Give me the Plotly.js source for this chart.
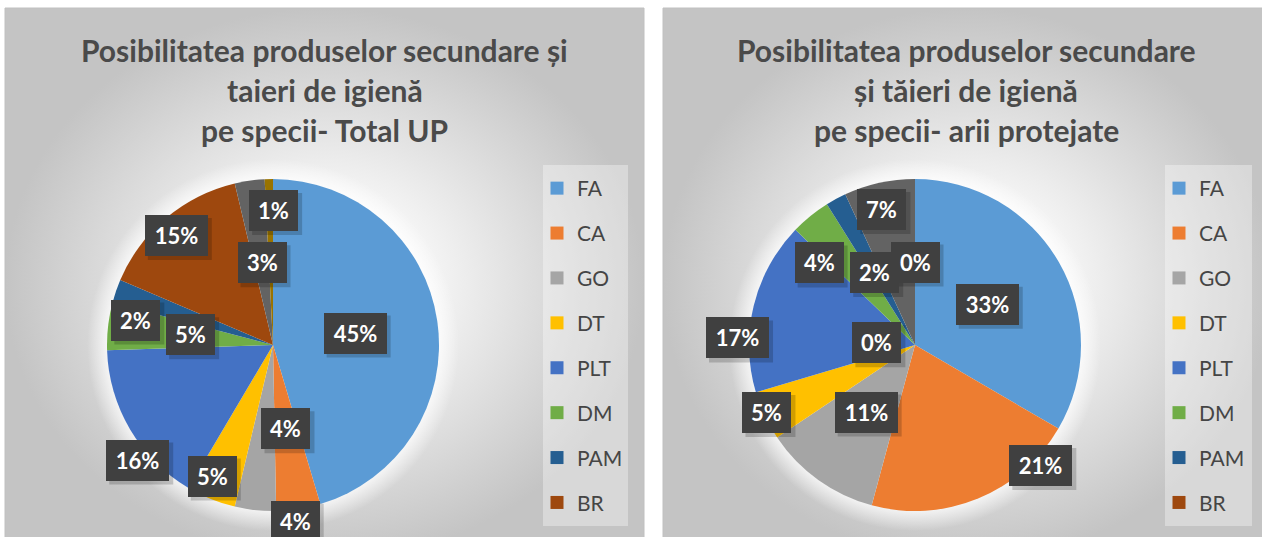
<!DOCTYPE html>
<html>
<head>
<meta charset="utf-8">
<script src="https://cdn.plot.ly/plotly-3.0.1.min.js"></script>
<style>html,body{margin:0;padding:0;background:#fff;overflow:hidden}</style>
</head>
<body>
<div id="chart" style="width:1262px;height:537px"></div>
<script>
// ---------------- data ----------------
const categories = ['FA', 'CA', 'GO', 'DT', 'PLT', 'DM', 'PAM', 'BR', 'Categoria 9', 'Categoria 10'];
const legendCategories = ['FA', 'CA', 'GO', 'DT', 'PLT', 'DM', 'PAM', 'BR'];
const totalUPValues = [45.4, 4.3, 4.0, 4.8, 16.0, 4.6, 2.3, 14.9, 2.9, 0.8];
const ariiProtejateValues = [33.4, 20.8, 11.4, 4.8, 16.8, 3.9, 2.0, 0, 6.9, 0];
const titleTotalUP = ['Posibilitatea produselor secundare și', 'taieri de igienă', 'pe specii- Total UP'];
const titleArii = ['Posibilitatea produselor secundare', 'și tăieri de igienă', 'pe specii- arii protejate'];

// ---------------- style ----------------
const sliceColors = ['#5B9BD5', '#ED7D31', '#A5A5A5', '#FFC000', '#4472C4', '#70AD47', '#255E91', '#9E480E', '#636363', '#997300'];
// label placement: radius fraction and angle shift (deg) for each slice label
const leftLabelR = [0.5, 0.51, 1.07, 0.87, 1.07, 0.5, 0.84, 0.88, 0.5, 0.81];
const leftLabelShift = [0, 0, -13.3, 2.9, -9.8, 0.6, -8.6, -1.3, 0.5, 1.7];
const rightLabelR = [0.5, 1.05, 0.5, 0.98, 1.07, 0.76, 0.5, 0.23, 0.84, 0.5];
const rightLabelShift = [0.4, -23.9, 0.4, 0.7, -11.4, -10.4, -0.6, -61.9, -1.3, 0];

const W = 1262, H = 537;
const FONT = 'Lato, "Open Sans", sans-serif';

const panels = [
  {values: totalUPValues, title: titleTotalUP, cx: 273, cy: 345, R: 166,
   px0: 5, px1: 644, py0: 8, py1: 560, titleCx: 324.5,
   lx0: 543, lx1: 628, ly0: 165, ly1: 526, legend: 'legend',
   labelR: leftLabelR, labelShift: leftLabelShift},
  {values: ariiProtejateValues, title: titleArii, cx: 915, cy: 345, R: 166,
   px0: 663, px1: 1272, py0: 8, py1: 560, titleCx: 966,
   lx0: 1165, lx1: 1252, ly0: 165, ly1: 526, legend: 'legend2',
   labelR: rightLabelR, labelShift: rightLabelShift}
];

const traces = [], annotations = [], shapes = [];
const titleLineY = [50, 90, 130];

panels.forEach(function (p, k) {
  // panel background with radial gradient
  traces.push({
    type: 'scatter', mode: 'lines', hoverinfo: 'skip', showlegend: false,
    x: [p.px0, p.px1, p.px1, p.px0, p.px0], y: [p.py0, p.py0, p.py1, p.py1, p.py0],
    fill: 'toself',
    fillgradient: {type: 'radial', colorscale: [[0, '#ffffff'], [0.3, '#f7f7f7'], [1, '#c4c4c4']]},
    line: {color: '#c0c0c0', width: 1}
  });
  // soft glow around the pie
  const gx = [], gy = [], Rg = p.R + 20;
  for (let a = 0; a <= 360; a += 4) {
    gx.push(p.cx + Rg * Math.sin(a * Math.PI / 180));
    gy.push(p.cy - Rg * Math.cos(a * Math.PI / 180));
  }
  traces.push({
    type: 'scatter', mode: 'lines', hoverinfo: 'skip', showlegend: false,
    x: gx, y: gy, fill: 'toself', line: {width: 0},
    fillgradient: {type: 'radial', colorscale: [[0, 'rgba(255,255,255,1)'], [0.86, 'rgba(255,255,255,0.95)'], [1, 'rgba(255,255,255,0)']]}
  });
  // legend proxies (legend in reference shows only first 8 categories)
  legendCategories.forEach(function (c, i) {
    traces.push({
      type: 'scatter', mode: 'markers', x: [null], y: [null], name: c,
      legend: p.legend, legendgroup: p.legend + '_' + i, hoverinfo: 'skip',
      marker: {symbol: 'square', size: 13, color: sliceColors[i], line: {width: 0}}
    });
  });
  // pie
  traces.push({
    type: 'pie', labels: categories, values: p.values, sort: false,
    direction: 'clockwise', rotation: 0, textinfo: 'none', showlegend: false,
    hoverinfo: 'label+percent',
    marker: {colors: sliceColors, line: {width: 0}},
    domain: {x: [(p.cx - p.R) / W, (p.cx + p.R) / W], y: [(H - p.cy - p.R) / H, (H - p.cy + p.R) / H]}
  });
  // legend box
  shapes.push({type: 'rect', xref: 'paper', yref: 'paper', layer: 'above',
    x0: p.lx0 / W, x1: p.lx1 / W, y0: 1 - p.ly1 / H, y1: 1 - p.ly0 / H,
    fillcolor: 'rgba(255,255,255,0.35)', line: {width: 0}});
  // title lines
  p.title.forEach(function (t, j) {
    annotations.push({xref: 'paper', yref: 'paper', x: p.titleCx / W, y: 1 - titleLineY[j] / H,
      xanchor: 'center', yanchor: 'middle', showarrow: false, text: t,
      font: {family: FONT, size: 30, color: '#4a4a4a', weight: 'bold'}});
  });
  // data labels
  const total = p.values.reduce(function (s, v) { return s + v; }, 0);
  let cum = 0;
  p.values.forEach(function (v, i) {
    const mid = (cum + v / 2) / total * 360 + p.labelShift[i];
    cum += v;
    const r = p.R * p.labelR[i];
    const x = p.cx + r * Math.sin(mid * Math.PI / 180);
    const y = p.cy - r * Math.cos(mid * Math.PI / 180);
    const txt = Math.round(v / total * 100) + '%';
    const bw = txt.length > 2 ? 63 : 49;
    // drop shadow of the label box
    shapes.push({type: 'rect', layer: 'above', xref: 'paper', yref: 'paper',
      xsizemode: 'pixel', ysizemode: 'pixel', xanchor: x / W, yanchor: 1 - y / H,
      x0: -bw / 2 + 3, x1: bw / 2 + 4, y0: -20.5 - 4, y1: 20.5 - 3,
      fillcolor: 'rgba(0,0,0,0.18)', line: {width: 0}});
    annotations.push({xref: 'paper', yref: 'paper', x: x / W, y: 1 - y / H, xanchor: 'center', yanchor: 'middle',
      showarrow: false, text: txt, width: bw, height: 41, borderpad: 0, borderwidth: 0,
      bgcolor: '#404040', font: {family: FONT, size: 22, color: '#ffffff', weight: 'bold'}});
  });
});

function legendCfg(p) {
  return {x: (p.lx0 - 6) / W, y: 1 - (p.ly0 + 3) / H, xanchor: 'left', yanchor: 'top',
    bgcolor: 'rgba(0,0,0,0)', borderwidth: 0,
    font: {family: FONT, size: 21, color: '#454545'},
    traceorder: 'grouped', tracegroupgap: 14.6, itemclick: false, itemdoubleclick: false};
}

const layout = {
  width: W, height: H, autosize: false,
  margin: {l: 0, r: 0, t: 0, b: 0, pad: 0, autoexpand: false},
  paper_bgcolor: '#ffffff', plot_bgcolor: 'rgba(0,0,0,0)',
  xaxis: {range: [0, W], visible: false, fixedrange: true, domain: [0, 1]},
  yaxis: {range: [H, 0], visible: false, fixedrange: true, domain: [0, 1]},
  showlegend: true,
  legend: legendCfg(panels[0]),
  legend2: legendCfg(panels[1]),
  annotations: annotations,
  shapes: shapes
};

Plotly.newPlot('chart', traces, layout, {displayModeBar: false, staticPlot: true});
</script>
</body>
</html>
